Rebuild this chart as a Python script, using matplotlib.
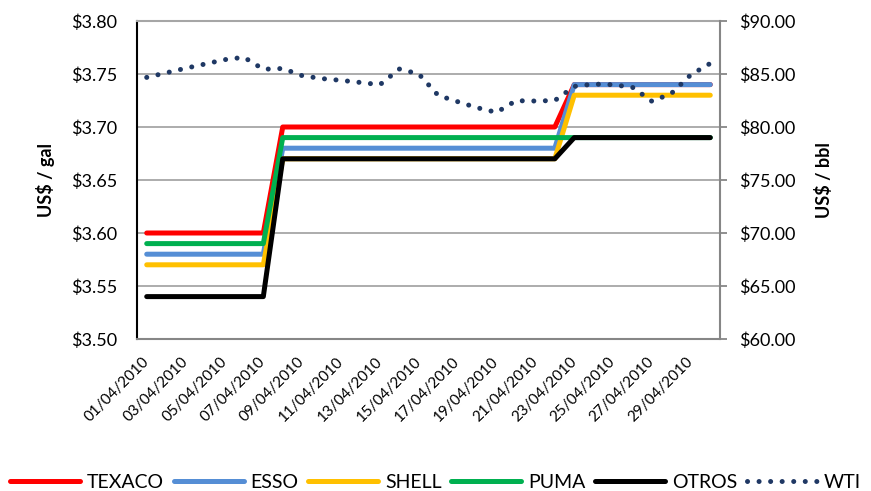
import matplotlib.pyplot as plt
import pandas as pd
from matplotlib.ticker import MultipleLocator, FuncFormatter

plt.rcParams['font.family'] = ['Lato', 'DejaVu Sans']

# fechas (categorias del eje x)
dates = pd.date_range('2010-04-01', '2010-04-30').strftime('%d/%m/%Y').tolist()

# precios US$/gal
texaco = [3.60, 3.60, 3.60, 3.60, 3.60, 3.60, 3.60,
          3.70, 3.70, 3.70, 3.70, 3.70, 3.70, 3.70, 3.70, 3.70, 3.70, 3.70, 3.70, 3.70, 3.70, 3.70,
          3.74, 3.74, 3.74, 3.74, 3.74, 3.74, 3.74, 3.74]
esso = [3.58, 3.58, 3.58, 3.58, 3.58, 3.58, 3.58,
        3.68, 3.68, 3.68, 3.68, 3.68, 3.68, 3.68, 3.68, 3.68, 3.68, 3.68, 3.68, 3.68, 3.68, 3.68,
        3.74, 3.74, 3.74, 3.74, 3.74, 3.74, 3.74, 3.74]
shell = [3.57, 3.57, 3.57, 3.57, 3.57, 3.57, 3.57,
         3.67, 3.67, 3.67, 3.67, 3.67, 3.67, 3.67, 3.67, 3.67, 3.67, 3.67, 3.67, 3.67, 3.67, 3.67,
         3.73, 3.73, 3.73, 3.73, 3.73, 3.73, 3.73, 3.73]
puma = [3.59, 3.59, 3.59, 3.59, 3.59, 3.59, 3.59,
        3.69, 3.69, 3.69, 3.69, 3.69, 3.69, 3.69, 3.69, 3.69, 3.69, 3.69, 3.69, 3.69, 3.69, 3.69,
        3.69, 3.69, 3.69, 3.69, 3.69, 3.69, 3.69, 3.69]
otros = [3.54, 3.54, 3.54, 3.54, 3.54, 3.54, 3.54,
         3.67, 3.67, 3.67, 3.67, 3.67, 3.67, 3.67, 3.67, 3.67, 3.67, 3.67, 3.67, 3.67, 3.67, 3.67,
         3.69, 3.69, 3.69, 3.69, 3.69, 3.69, 3.69, 3.69]

# WTI US$/bbl
wti = [84.68, 85.11, 85.54, 85.94, 86.35, 86.58, 85.45, 85.52, 84.84, 84.57,
       84.40, 84.20, 83.99, 85.47, 85.00, 82.98, 82.39, 81.82, 81.38, 82.48,
       82.45, 82.50, 83.83, 84.05, 83.99, 83.74, 82.42, 83.17, 84.93, 86.00]

series = [('TEXACO', texaco, '#FF0000'), ('ESSO', esso, '#558ED5'), ('SHELL', shell, '#FFC000'),
          ('PUMA', puma, '#00B050'), ('OTROS', otros, '#000000')]

fig, ax = plt.subplots(figsize=(8.71, 4.91), dpi=100)
fig.subplots_adjust(left=137/871, right=720/871, top=1-21/491, bottom=1-339/491)

x = list(range(len(dates)))
for name, vals, col in series:
    ax.plot(x, vals, color=col, lw=3.6, label=name, solid_capstyle='round', solid_joinstyle='round')

ax2 = ax.twinx()
ax2.plot(x, wti, color='#1F3864', lw=3.6, linestyle=(0, (0.01, 2.3)), dash_capstyle='round', label='WTI')

ax.set_xlim(-0.5, len(dates) - 0.5)
ax.set_ylim(3.5, 3.8)
ax.yaxis.set_major_locator(MultipleLocator(0.05))
ax.yaxis.set_major_formatter(FuncFormatter(lambda v, p: f'${v:.2f}'))
ax2.set_ylim(60, 90)
ax2.yaxis.set_major_locator(MultipleLocator(5))
ax2.yaxis.set_major_formatter(FuncFormatter(lambda v, p: f'${v:.2f}'))

ax.set_xticks(x[::2])
ax.set_xticklabels(dates[::2], rotation=45, ha='right', va='center', rotation_mode='anchor', fontsize=11)
ax.tick_params(axis='x', length=0, pad=15)
ax.tick_params(axis='y', length=0, pad=14, labelsize=13)
ax2.tick_params(axis='y', length=5, color='#868686', width=1.3, pad=9, labelsize=13)

ax.grid(axis='y', color='#A6A6A6', lw=1.3)
ax.set_axisbelow(True)

ax.spines['top'].set_color('#A6A6A6')
ax.spines['bottom'].set_color('#868686')
ax.spines['left'].set_color('black')
ax.spines['right'].set_visible(False)
for s in ['top', 'bottom', 'left']:
    ax2.spines[s].set_visible(False)
ax2.spines['right'].set_color('#868686')
for sp in [ax.spines['top'], ax.spines['bottom'], ax.spines['left'], ax2.spines['right']]:
    sp.set_linewidth(1.5)

ax.set_ylabel('US$ / gal', fontweight='bold', fontsize=13)
ax.yaxis.set_label_coords(-0.141, 0.5)
ax2.set_ylabel('US$ / bbl', fontweight='bold', fontsize=13)
ax2.yaxis.set_label_coords(1.163, 0.5)

h1, l1 = ax.get_legend_handles_labels()
h2, l2 = ax2.get_legend_handles_labels()
fig.legend(h1 + h2, l1 + l2, loc='center', bbox_to_anchor=(0.5, 9/491), ncol=6, frameon=False,
           fontsize=14, handlelength=3.6, handletextpad=0.35, columnspacing=0.5)

fig.savefig('out.png', dpi=100)
